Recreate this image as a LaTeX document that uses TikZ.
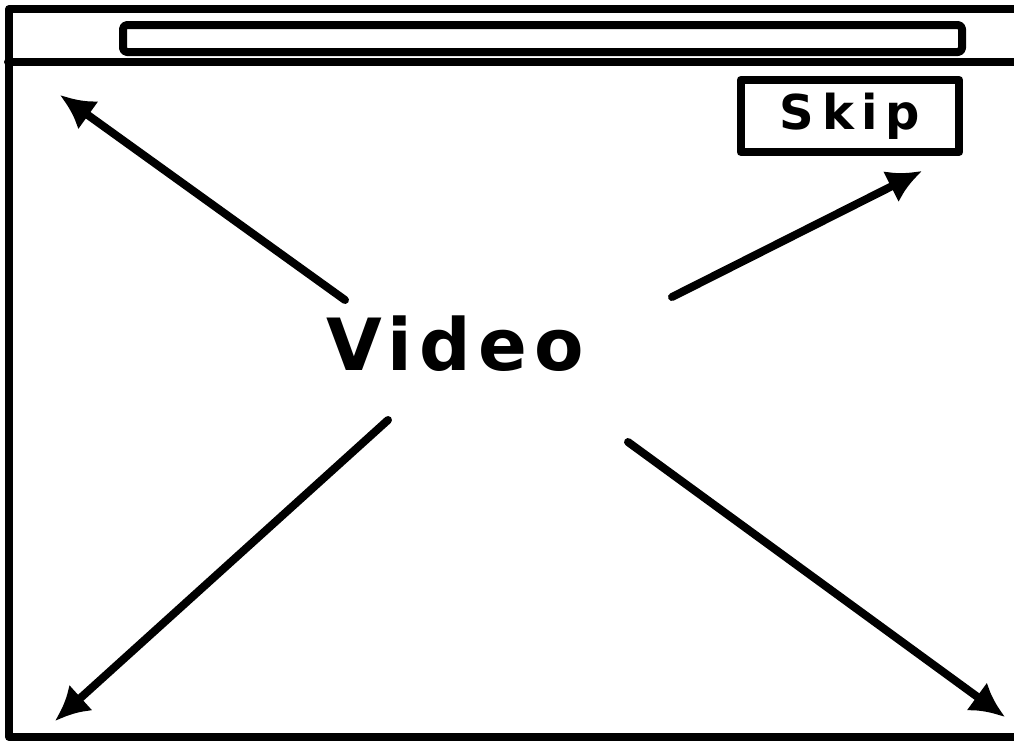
\documentclass[tikz,border=0pt]{standalone}
\usepackage{fontspec}
\newfontfamily\sketchfont[LetterSpace=10]{DejaVu Sans}
\newfontfamily\sketchwide[LetterSpace=16]{DejaVu Sans}
\usetikzlibrary{arrows.meta}
\tikzset{every picture/.style={line width=0.75pt}}
\tikzset{
  pen/.style={line width=6pt, line cap=round, line join=round},
  bigarrow/.style={line width=6pt, line cap=round, -{Latex[length=26pt,width=26pt]}}
}

\begin{document}
\begin{tikzpicture}[x=0.75pt,y=0.75pt,yscale=-1,xscale=1]
\useasboundingbox (0,0) rectangle (1014,740);

% window frame
\draw [pen]  (1014,9) -- (9,9) -- (9,737) -- (1014,737) ;
\draw [pen]  (8,62) -- (1014,62) ;
% address bar
\draw [pen, rounded corners=3pt]  (123,25) rectangle (962,52) ;

% labels
\draw (455,344) node [inner sep=0.75pt, font=\sketchfont\bfseries\fontsize{54}{54}\selectfont]  (video) {Video};
\draw (850,116) node [draw, pen, inner sep=0.75pt, minimum width=164pt, minimum height=54pt, font=\sketchwide\bfseries\fontsize{36}{36}\selectfont]  (skip) {Skip};

% arrow ends
\coordinate (ulFrom) at (345,300);
\coordinate (ulTo) at (60,95);
\coordinate (urFrom) at (672,297);
\coordinate (urTo) at (922,171);
\coordinate (llFrom) at (388,420);
\coordinate (llTo) at (55,721);
\coordinate (lrFrom) at (628,442);
\coordinate (lrTo) at (1005,717);

\draw [bigarrow]  (ulFrom) -- (ulTo) ;
\draw [bigarrow]  (urFrom) -- (urTo) ;
\draw [bigarrow]  (llFrom) -- (llTo) ;
\draw [bigarrow]  (lrFrom) -- (lrTo) ;
\end{tikzpicture}
\end{document}
